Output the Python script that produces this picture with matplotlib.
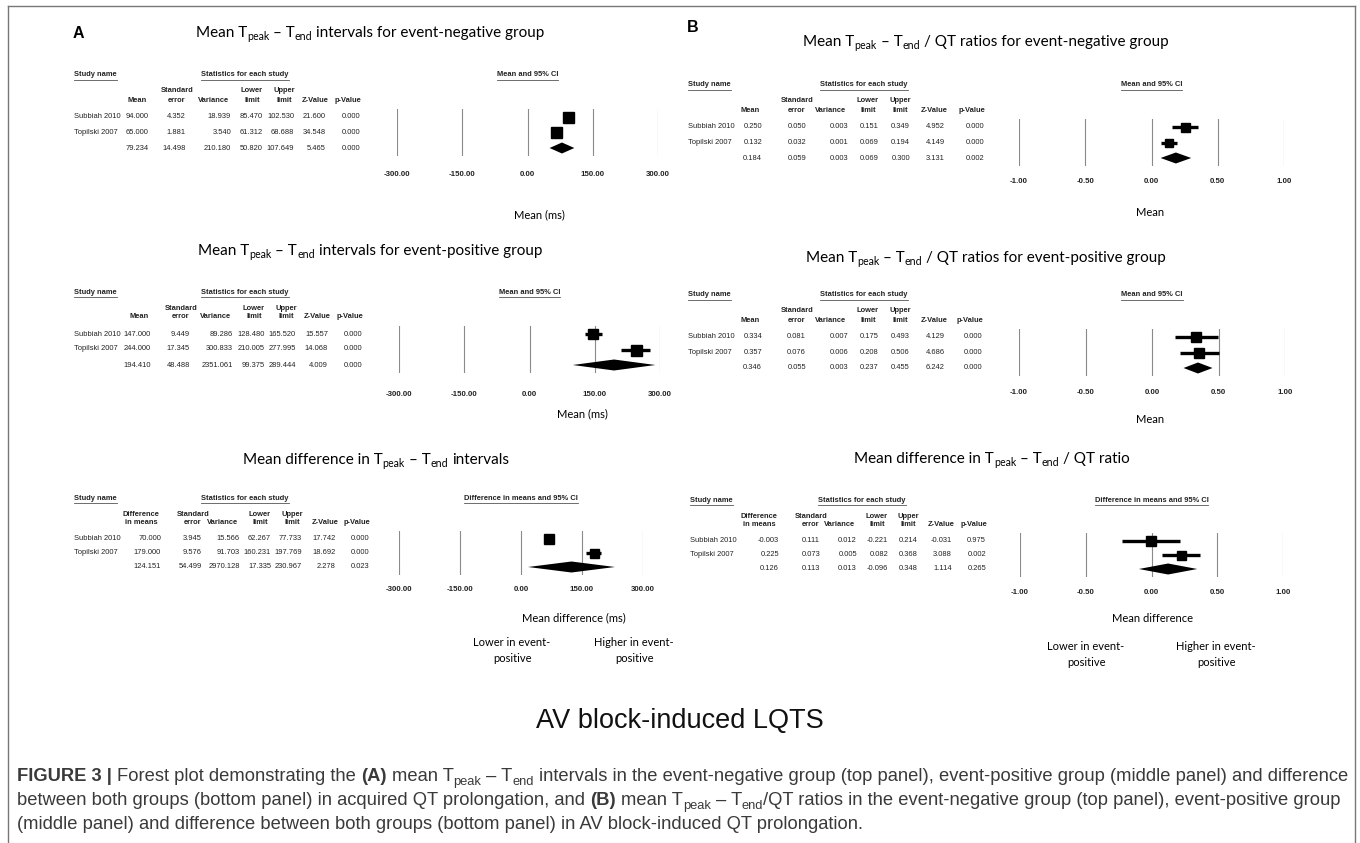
import matplotlib
matplotlib.use('Agg')
import matplotlib.pyplot as plt
from matplotlib.lines import Line2D

W, H = 1360, 843

studies = ['Subbiah 2010', 'Topilski 2007']

# A - Tpeak-Tend intervals (ms), rows: Subbiah, Topilski, pooled
neg_ms_mean = [94.000, 65.000, 79.234]
neg_ms_se = [4.352, 1.881, 14.498]
neg_ms_var = [18.939, 3.540, 210.180]
neg_ms_lower = [85.470, 61.312, 50.820]
neg_ms_upper = [102.530, 68.688, 107.649]
neg_ms_z = [21.600, 34.548, 5.465]
neg_ms_p = [0.000, 0.000, 0.000]

pos_ms_mean = [147.000, 244.000, 194.410]
pos_ms_se = [9.449, 17.345, 48.488]
pos_ms_var = [89.286, 300.833, 2351.061]
pos_ms_lower = [128.480, 210.005, 99.375]
pos_ms_upper = [165.520, 277.995, 289.444]
pos_ms_z = [15.557, 14.068, 4.009]
pos_ms_p = [0.000, 0.000, 0.000]

diff_ms_mean = [70.000, 179.000, 124.151]
diff_ms_se = [3.945, 9.576, 54.499]
diff_ms_var = [15.566, 91.703, 2970.128]
diff_ms_lower = [62.267, 160.231, 17.335]
diff_ms_upper = [77.733, 197.769, 230.967]
diff_ms_z = [17.742, 18.692, 2.278]
diff_ms_p = [0.000, 0.000, 0.023]

# B - Tpeak-Tend / QT ratios
neg_qt_mean = [0.250, 0.132, 0.184]
neg_qt_se = [0.050, 0.032, 0.059]
neg_qt_var = [0.003, 0.001, 0.003]
neg_qt_lower = [0.151, 0.069, 0.069]
neg_qt_upper = [0.349, 0.194, 0.300]
neg_qt_z = [4.952, 4.149, 3.131]
neg_qt_p = [0.000, 0.000, 0.002]

pos_qt_mean = [0.334, 0.357, 0.346]
pos_qt_se = [0.081, 0.076, 0.055]
pos_qt_var = [0.007, 0.006, 0.003]
pos_qt_lower = [0.175, 0.208, 0.237]
pos_qt_upper = [0.493, 0.506, 0.455]
pos_qt_z = [4.129, 4.686, 6.242]
pos_qt_p = [0.000, 0.000, 0.000]

diff_qt_mean = [-0.003, 0.225, 0.126]
diff_qt_se = [0.111, 0.073, 0.113]
diff_qt_var = [0.012, 0.005, 0.013]
diff_qt_lower = [-0.221, 0.082, -0.096]
diff_qt_upper = [0.214, 0.368, 0.348]
diff_qt_z = [-0.031, 3.088, 1.114]
diff_qt_p = [0.975, 0.002, 0.265]

ms_ticks = [-300, -150, 0, 150, 300]
qt_ticks = [-1.0, -0.5, 0.0, 0.5, 1.0]

mean_heads = [('', 'Mean'), ('Standard', 'error'), ('', 'Variance'), ('Lower', 'limit'),
              ('Upper', 'limit'), ('', 'Z-Value'), ('', 'p-Value')]
diff_heads = [('Difference', 'in means')] + mean_heads[1:]

TABLE = ['Liberation Sans Narrow', 'Liberation Sans']
TITLE = ['Lato', 'DejaVu Sans']
CAP = ['Liberation Sans', 'DejaVu Sans']
TS = 5.4  # table font size

fig = plt.figure(figsize=(W / 100, H / 100), dpi=100)
fig.patch.set_facecolor('white')
renderer = fig.canvas.get_renderer()


def fx(x):
    return x / W


def fy(y):
    return 1 - y / H


def adv(s, **kw):
    # advance width of s in pixels (pipes keep the spaces counted)
    a = fig.text(0, 0, '|' + s + '|', **kw)
    b = fig.text(0, 0, '||', **kw)
    w = a.get_window_extent(renderer).width - b.get_window_extent(renderer).width
    a.remove()
    b.remove()
    return w


def run_kw(st, size, family):
    return dict(fontsize=size * 0.7 if st == 'sub' else size, family=family,
                weight='bold' if st == 'b' else 'normal')


def runs_width(runs, size, family):
    return sum(adv(s, **run_kw(st, size, family)) for s, st in runs)


def draw_runs(x, y, runs, size, family, color='black', ha='center'):
    # y is the baseline, runs are (text, style) with style '', 'b' or 'sub'
    pieces = []
    for s, st in runs:
        kw = run_kw(st, size, family)
        pieces.append((s, st, kw, adv(s, **kw)))
    total = sum(p[3] for p in pieces)
    cx = x - total / 2 if ha == 'center' else x
    for s, st, kw, w in pieces:
        lead = len(s) - len(s.lstrip(' '))
        off = adv(' ' * lead, **kw) if lead else 0
        dy = size * 100 / 72 * 0.22 if st == 'sub' else 0
        fig.text(fx(cx + off), fy(y + dy), s.lstrip(' '), ha='left', va='baseline',
                 color=color, **kw)
        cx += w
    return total


def underlined(x, y, s, ha):
    t = fig.text(fx(x), fy(y), s, ha=ha, va='center', fontsize=TS, family=TABLE,
                 weight='bold', color='#222222')
    bb = t.get_window_extent(renderer)
    fig.add_artist(Line2D([bb.x0 / W, bb.x1 / W], [(bb.y0 - 1) / H] * 2,
                          color='#555555', lw=0.6))


def tpeak_title(pre, post):
    return [(pre + 'T', ''), ('peak', 'sub'), (' \u2013 T', ''), ('end', 'sub'), (post, '')]


panels = [
    dict(title=tpeak_title('Mean ', ' intervals for event-negative group'), tx=370, ty=33,
         heads=mean_heads, cols=[neg_ms_mean, neg_ms_se, neg_ms_var, neg_ms_lower,
                                 neg_ms_upper, neg_ms_z, neg_ms_p],
         name_x=74, stat_x=245, col_r=[149, 186, 231, 263, 294, 326, 360],
         ax_x=(397, 658), hdr=75, rows=(117, 133, 148), tick_y=175,
         ticks=ms_ticks, heading='Mean and 95% CI', xlab=('Mean (ms)', 539, 215),
         box=[11, 11]),
    dict(title=tpeak_title('Mean ', ' intervals for event-positive group'), tx=370, ty=251,
         heads=mean_heads, cols=[pos_ms_mean, pos_ms_se, pos_ms_var, pos_ms_lower,
                                 pos_ms_upper, pos_ms_z, pos_ms_p],
         name_x=74, stat_x=245, col_r=[151, 190, 233, 265, 296, 328, 362],
         ax_x=(399, 660), hdr=292, rows=(334, 349, 365), tick_y=395,
         ticks=ms_ticks, heading='Mean and 95% CI', xlab=('Mean (ms)', 582, 414),
         box=[10, 11]),
    dict(title=tpeak_title('Mean difference in ', ' intervals'), tx=376, ty=460,
         heads=diff_heads, cols=[diff_ms_mean, diff_ms_se, diff_ms_var, diff_ms_lower,
                                 diff_ms_upper, diff_ms_z, diff_ms_p],
         name_x=74, stat_x=245, col_r=[161, 202, 240, 271, 302, 336, 369],
         ax_x=(399, 643), hdr=498, rows=(539, 553, 567), tick_y=590,
         ticks=ms_ticks, heading='Difference in means and 95% CI',
         xlab=('Mean difference (ms)', 574, 618), box=[10, 9],
         sides=((512, 634), 643)),
    dict(title=tpeak_title('Mean ', ' / QT ratios for event-negative group'), tx=986, ty=42,
         heads=mean_heads, cols=[neg_qt_mean, neg_qt_se, neg_qt_var, neg_qt_lower,
                                 neg_qt_upper, neg_qt_z, neg_qt_p],
         name_x=688, stat_x=864, col_r=[762, 806, 848, 879, 910, 945, 984],
         ax_x=(1019, 1284), hdr=85, rows=(127, 143, 158), tick_y=182,
         ticks=qt_ticks, heading='Mean and 95% CI', xlab=('Mean', 1150, 212),
         box=[9, 8]),
    dict(title=tpeak_title('Mean ', ' / QT ratios for event-positive group'), tx=986, ty=258,
         heads=mean_heads, cols=[pos_qt_mean, pos_qt_se, pos_qt_var, pos_qt_lower,
                                 pos_qt_upper, pos_qt_z, pos_qt_p],
         name_x=688, stat_x=864, col_r=[762, 806, 848, 879, 910, 945, 982],
         ax_x=(1019, 1285), hdr=295, rows=(337, 353, 368), tick_y=393,
         ticks=qt_ticks, heading='Mean and 95% CI', xlab=('Mean', 1150, 420),
         box=[10, 10]),
    dict(title=tpeak_title('Mean difference in ', ' / QT ratio'), tx=992, ty=459,
         heads=diff_heads, cols=[diff_qt_mean, diff_qt_se, diff_qt_var, diff_qt_lower,
                                 diff_qt_upper, diff_qt_z, diff_qt_p],
         name_x=690, stat_x=862, col_r=[779, 820, 857, 888, 918, 952, 986],
         ax_x=(1020, 1283), hdr=500, rows=(541, 555, 569), tick_y=593,
         ticks=qt_ticks, heading='Difference in means and 95% CI',
         xlab=('Mean difference', 1153, 618), box=[10, 9],
         sides=((1086, 1216), 647)),
]

head_shift = [12, 9, 17, 11, 10, 11, 12]

for pn in panels:
    draw_runs(pn['tx'], pn['ty'] + 4, pn['title'], 11, TITLE)

    hdr = pn['hdr']
    underlined(pn['name_x'], hdr, 'Study name', 'left')
    underlined(pn['stat_x'], hdr, 'Statistics for each study', 'center')
    x0, x1 = pn['ax_x']
    underlined((x0 + x1) / 2, hdr, pn['heading'], 'center')

    for j, (h1, h2) in enumerate(pn['heads']):
        hx = pn['col_r'][j] - head_shift[j]
        if j == 0 and h1:
            hx = pn['col_r'][j] - 20
        for txt, yy in ((h1, hdr + 16), (h2, hdr + 25)):
            if txt:
                fig.text(fx(hx), fy(yy), txt, ha='center', va='center', fontsize=TS,
                         family=TABLE, weight='bold', color='#222222')

    rows = pn['rows']
    for i in range(3):
        if i < 2:
            fig.text(fx(pn['name_x']), fy(rows[i]), studies[i], ha='left', va='center',
                     fontsize=TS, family=TABLE, color='#222222')
        for j, col in enumerate(pn['cols']):
            fig.text(fx(pn['col_r'][j]), fy(rows[i]), f'{col[i]:.3f}', ha='right',
                     va='center', fontsize=TS, family=TABLE, color='#222222')

    # forest plot, rows 0..2 mapped onto the text rows
    step = (rows[2] - rows[0]) / 2
    half = 8
    top, bot = rows[0] - half, rows[2] + half
    ax = fig.add_axes([fx(x0), fy(bot), (x1 - x0) / W, (bot - top) / H])
    ax.set_xlim(pn['ticks'][0], pn['ticks'][-1])
    ax.set_ylim(2 + half / step, -half / step)
    ax.patch.set_alpha(0)
    for s in ax.spines.values():
        s.set_visible(False)
    for t in pn['ticks']:
        ax.axvline(t, color='#8a8a8a', lw=0.8, zorder=1)
    m, lo, hi = pn['cols'][0], pn['cols'][3], pn['cols'][4]
    for i in range(2):
        ax.plot([lo[i], hi[i]], [i, i], color='black', lw=2.4, solid_capstyle='butt', zorder=3)
        ax.plot(m[i], i, marker='s', ms=pn['box'][i] * 0.72, color='black', zorder=4)
    dh = 5.5 / step
    ax.fill([lo[2], m[2], hi[2], m[2]], [2, 2 - dh, 2, 2 + dh], color='black', lw=0, zorder=4)
    ax.set_yticks([])
    ax.set_xticks(pn['ticks'])
    ax.set_xticklabels([f'{t:.2f}' for t in pn['ticks']], fontsize=TS + 0.3, family=TABLE,
                       weight='bold', color='#222222')
    ax.tick_params(axis='x', length=0, pad=(pn['tick_y'] - bot - 4) * 0.72)

    lab, lx, ly = pn['xlab']
    fig.text(fx(lx), fy(ly), lab, ha='center', va='center', fontsize=8, family=TITLE)
    if 'sides' in pn:
        (lx0, lx1), sy = pn['sides']
        for sx, first in ((lx0, 'Lower in event-'), (lx1, 'Higher in event-')):
            fig.text(fx(sx), fy(sy), first, ha='center', va='center', fontsize=8, family=TITLE)
            fig.text(fx(sx), fy(sy + 15), 'positive', ha='center', va='center',
                     fontsize=8, family=TITLE)

fig.text(fx(78), fy(33), 'A', ha='center', va='center', fontsize=11.5, weight='bold',
         family=CAP)
fig.text(fx(693), fy(27), 'B', ha='center', va='center', fontsize=11.5, weight='bold',
         family=CAP)

fig.text(fx(680), fy(721), 'AV block-induced LQTS', ha='center', va='center', fontsize=19.5,
         family=CAP, color='#111111')

# caption
cap_lines = [
    [('FIGURE 3 | ', 'b'), ('Forest plot demonstrating the ', ''), ('(A)', 'b'), (' mean T', ''),
     ('peak', 'sub'), (' \u2013 T', ''), ('end', 'sub'),
     (' intervals in the event-negative group (top panel), event-positive group '
      '(middle panel) and difference', '')],
    [('between both groups (bottom panel) in acquired QT prolongation, and ', ''), ('(B)', 'b'),
     (' mean T', ''), ('peak', 'sub'), (' \u2013 T', ''), ('end', 'sub'),
     ('/QT ratios in the event-negative group (top panel), event-positive group', '')],
    [('(middle panel) and difference between both groups (bottom panel) in AV block-induced '
      'QT prolongation.', '')],
]
# first caption line runs from the left margin to the right margin
cap_size = 11 * 1327 / runs_width(cap_lines[0], 11, CAP)
for k, runs in enumerate(cap_lines):
    draw_runs(17, 781 + 24 * k, runs, cap_size, CAP, color='#3a3a3a', ha='left')

# outer frame
for xs, ys in (([8, 1355], [6, 6]), ([8, 8], [6, 843]), ([1355, 1355], [6, 843])):
    fig.add_artist(Line2D([fx(v) for v in xs], [fy(v) for v in ys], color='#777777', lw=1.0))

fig.savefig('out.png', dpi=100, facecolor='white')
